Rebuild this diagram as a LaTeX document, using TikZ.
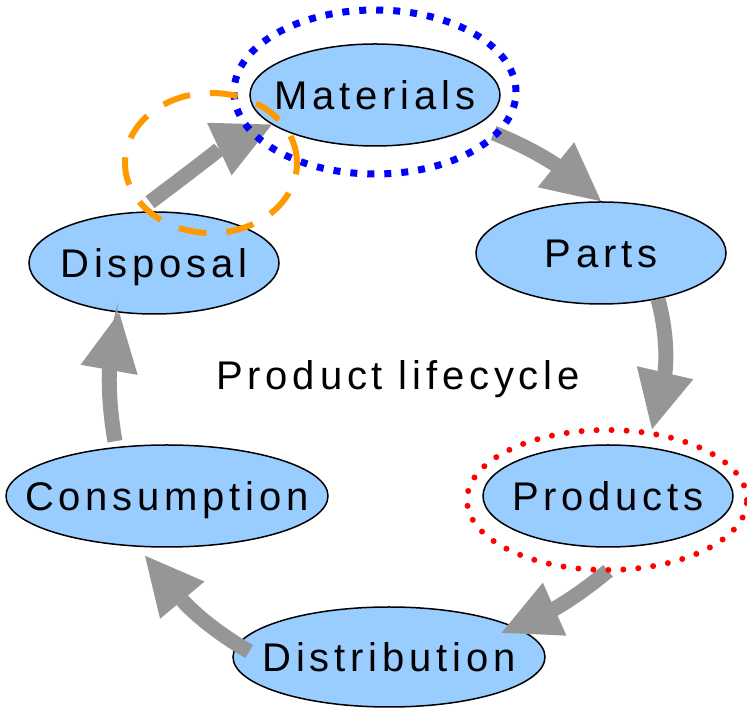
\documentclass[tikz,border=0pt]{standalone}
\usepackage{fontspec}
\setmainfont{Liberation Sans}[LetterSpace=12]
\usepackage{tikz}
\usetikzlibrary{shapes.geometric,arrows.meta}
\definecolor{stagefill}{HTML}{99CCFF}
\definecolor{flowgray}{HTML}{969696}
\definecolor{ringorange}{HTML}{FF9900}
\tikzstyle{stage}=      [ellipse, draw=black, line width=1.5pt, fill=stagefill, inner sep=0pt, text height=29pt, text depth=0pt, minimum width=250pt, minimum height=102pt]
\tikzstyle{flow}=       [color=flowgray, line width=15pt, -{Triangle[length=58pt,width=58pt,line width=0pt]}]
\tikzstyle{bluering}=   [draw=blue, line width=7pt, dash pattern=on 7pt off 10pt]
\tikzstyle{redring}=    [draw=red, line width=6pt, line cap=round, dash pattern=on 0pt off 15pt]
\tikzstyle{orangering}= [draw=ringorange, line width=6pt, dash pattern=on 28pt off 20pt]

\begin{document}
\begin{tikzpicture}[x=1pt,y=1pt,font=\fontsize{40}{48}\selectfont]
 \useasboundingbox (0,0) rectangle (747,709);

 \node[stage] (mat) at (375,614) {\makebox[0pt]{Materials}};
 \node[stage] (parts) at (601,456) {\makebox[0pt]{Parts}};
 \node[stage] (prod) at (608,213) {\makebox[0pt]{Products}};
 \node[stage, minimum width=312pt, minimum height=100pt] (dist) at (389,52) {\makebox[0pt]{Distribution}};
 \node[stage, minimum width=322pt] (cons) at (167,213) {\makebox[0pt]{Consumption}};
 \node[stage] (dis) at (154,446) {\makebox[0pt]{Disposal}};
 \node[anchor=base] (title) at (398,319) {Product lifecycle};

 \draw[flow] ([shift={(20,-6)}]mat.-18) to[out=-22,in=141] (parts.north);
 \draw[flow] (parts.-39) to[out=-75,in=77] ([shift={(44,15)}]prod.north);
 \draw[flow] ([yshift=-23]prod.south) to[out=220,in=24] ([xshift=-25]dist.10);
 \draw[flow] ([xshift=16]dist.178) to[out=150,in=-50] ([shift={(-22,-8)}]cons.south);
 \draw[flow] ([shift={(-52,3)}]cons.north) to[out=100,in=-100] (dis.-125);
 \draw[flow] ([shift={(-4,9)}]dis.north) to[out=37,in=205] (mat.196);

 \draw[bluering] ([yshift=3]mat.center) ellipse [x radius=141pt, y radius=82pt];
 \draw[redring] ([shift={(-1,-4)}]prod.center) ellipse [x radius=140pt, y radius=70pt];
 \draw[orangering] (211,546) ellipse [x radius=86pt, y radius=70pt];
\end{tikzpicture}
\end{document}
